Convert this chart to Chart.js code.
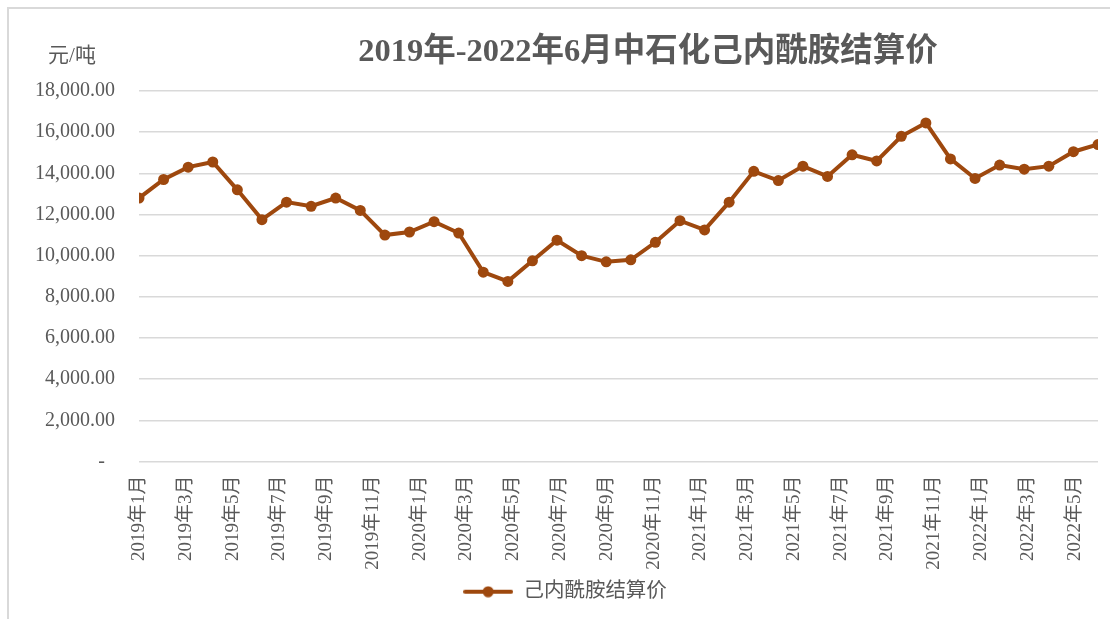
<!DOCTYPE html>
<html>
<head>
<meta charset="utf-8">
<title>2019年-2022年6月中石化己内酰胺结算价</title>
<script src="https://cdn.jsdelivr.net/npm/chart.js@4.4.0/dist/chart.umd.min.js"></script>
<style>
  html, body { margin: 0; padding: 0; background: #fff; }
  #wrap { position: relative; width: 1110px; height: 619px; }
</style>
</head>
<body>
<div id="wrap"><canvas id="priceChart"></canvas></div>
<script>
// ------------------------------------------------------------
// DATA
// ------------------------------------------------------------
const chartTitle = "2019年-2022年6月中石化己内酰胺结算价";
const unitLabel = "元/吨";
const seriesName = "己内酰胺结算价";

// category axis (every other month is labelled)
const monthLabels = [
  "2019年1月", "2019年2月", "2019年3月", "2019年4月", "2019年5月", "2019年6月",
  "2019年7月", "2019年8月", "2019年9月", "2019年10月", "2019年11月", "2019年12月",
  "2020年1月", "2020年2月", "2020年3月", "2020年4月", "2020年5月", "2020年6月",
  "2020年7月", "2020年8月", "2020年9月", "2020年10月", "2020年11月", "2020年12月",
  "2021年1月", "2021年2月", "2021年3月", "2021年4月", "2021年5月", "2021年6月",
  "2021年7月", "2021年8月", "2021年9月", "2021年10月", "2021年11月", "2021年12月",
  "2022年1月", "2022年2月", "2022年3月", "2022年4月", "2022年5月", "2022年6月"
];

// settlement price, 元/吨
const priceValues = [
  12800, 13700, 14300, 14550, 13200, 11750, 12600, 12400, 12800, 12200,
  11000, 11150, 11650, 11100, 9200, 8750, 9750, 10750, 10000, 9700,
  9800, 10650, 11700, 11250, 12600, 14100, 13650, 14350, 13850, 14900,
  14600, 15800, 16450, 14700, 13750, 14400, 14200, 14350, 15050, 15400
];

const yTicks = [0, 2000, 4000, 6000, 8000, 10000, 12000, 14000, 16000, 18000];

// ------------------------------------------------------------
// STYLE
// ------------------------------------------------------------
const FONT = '"Liberation Serif", "Noto Sans CJK SC", serif';
const TEXT_COLOR = "#595959";
const GRID_COLOR = "#d9d9d9";
const LINE_COLOR = "#9E480E";
const LEGEND_SHIFT = 16; // legend sits a bit right of canvas centre

// legend symbol: line with a dot in the middle
function legendSymbol() {
  const c = document.createElement("canvas");
  c.width = 50;
  c.height = 12;
  const g = c.getContext("2d");
  g.strokeStyle = LINE_COLOR;
  g.lineWidth = 4;
  g.lineCap = "round";
  g.beginPath();
  g.moveTo(2, 6);
  g.lineTo(48, 6);
  g.stroke();
  g.fillStyle = LINE_COLOR;
  g.beginPath();
  g.arc(25, 6, 5.5, 0, Math.PI * 2);
  g.fill();
  return c;
}

// title, unit and frame drawn by hand (positions as in the source)
const decorPlugin = {
  id: "decor",
  afterLayout(chart) {
    const lg = chart.legend;
    if (!lg || lg._shifted) return;
    const origDraw = lg.draw;
    lg.draw = function () {
      this.ctx.save();
      this.ctx.translate(LEGEND_SHIFT, 0);
      origDraw.call(this);
      this.ctx.restore();
    };
    lg._shifted = true;
  },
  afterDraw(chart) {
    const ctx = chart.ctx;
    ctx.save();
    ctx.strokeStyle = GRID_COLOR;
    ctx.lineWidth = 2;
    ctx.beginPath();
    ctx.moveTo(8, 700);
    ctx.lineTo(8, 8);
    ctx.lineTo(1200, 8);
    ctx.stroke();

    ctx.fillStyle = TEXT_COLOR;
    ctx.textBaseline = "middle";
    ctx.textAlign = "center";
    ctx.font = `bold 32.5px ${FONT}`;
    ctx.fillText(chartTitle, 648, 53);

    ctx.font = `21px ${FONT}`;
    ctx.fillText(unitLabel, 72, 56);
    ctx.restore();
  }
};

const ctx = document.getElementById("priceChart");

new Chart(ctx, {
  type: "line",
  data: {
    datasets: [{
      label: seriesName,
      data: priceValues.map((v, i) => ({ x: i, y: v })),
      xAxisID: "xPts",
      yAxisID: "y",
      borderColor: LINE_COLOR,
      backgroundColor: LINE_COLOR,
      borderWidth: 4,
      pointRadius: 5.5,
      pointHoverRadius: 6,
      pointBackgroundColor: LINE_COLOR,
      pointBorderWidth: 0,
      tension: 0
    }]
  },
  options: {
    responsive: true,
    maintainAspectRatio: false,
    animation: false,
    layout: {
      padding: { top: 91, left: 0, right: 12, bottom: 7 }
    },
    plugins: {
      title: { display: false },
      tooltip: { enabled: false },
      legend: {
        position: "bottom",
        labels: {
          usePointStyle: true,
          pointStyle: legendSymbol(),
          pointStyleWidth: 50,
          color: TEXT_COLOR,
          font: { family: FONT, size: 20.5 },
          padding: 10
        }
      }
    },
    scales: {
      x: {
        type: "category",
        labels: monthLabels,
        offset: false,
        grid: { display: false, drawTicks: false },
        border: { display: false },
        ticks: {
          autoSkip: false,
          minRotation: 90,
          maxRotation: 90,
          padding: 14,
          color: TEXT_COLOR,
          font: { family: FONT, size: 19 },
          callback: (v, i) => (i % 2 === 0 ? monthLabels[i] : "")
        },
        afterFit: scale => {
          scale.height = 110;
          scale.paddingLeft = 0;
          scale.paddingRight = 0;
        }
      },
      xPts: {
        type: "linear",
        display: false,
        min: 0,
        max: priceValues.length - 1
      },
      y: {
        min: yTicks[0],
        max: yTicks[yTicks.length - 1],
        grid: { color: GRID_COLOR, lineWidth: 1.5, drawTicks: false },
        border: { display: false },
        afterBuildTicks: scale => {
          scale.ticks = yTicks.map(v => ({ value: v }));
        },
        ticks: {
          padding: 24,
          color: TEXT_COLOR,
          font: { family: FONT, size: 20 },
          callback: v => v === 0
            ? "-  "
            : v.toLocaleString("en-US", { minimumFractionDigits: 2, maximumFractionDigits: 2 })
        },
        afterFit: scale => { scale.width = 139; }
      }
    }
  },
  plugins: [decorPlugin]
});
</script>
</body>
</html>
